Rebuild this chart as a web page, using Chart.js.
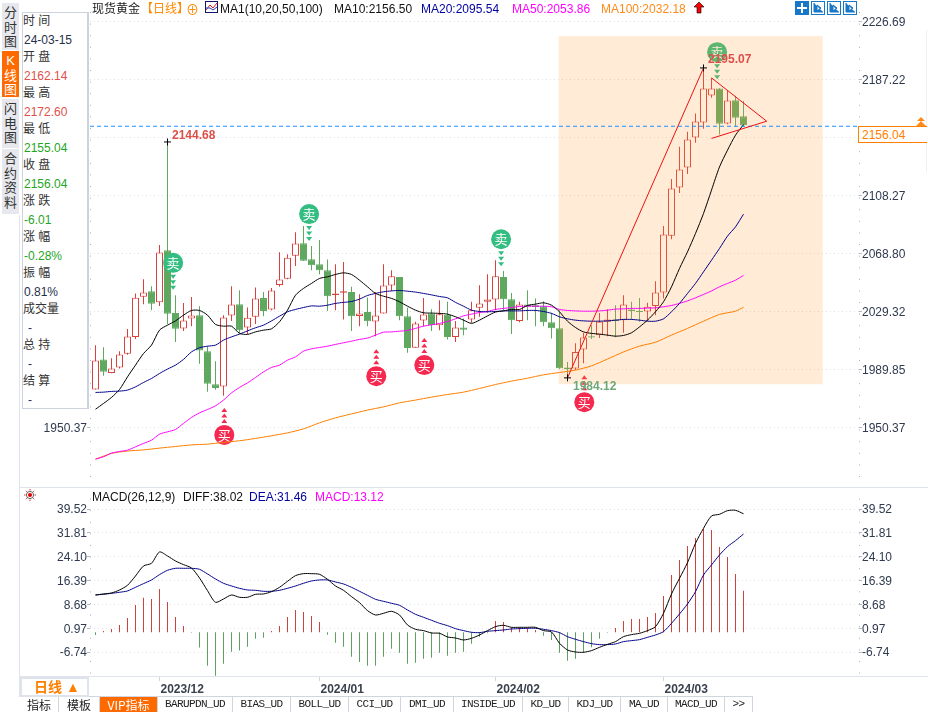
<!DOCTYPE html>
<html>
<head>
<meta charset="utf-8">
<script src="https://cdn.jsdelivr.net/npm/chart.js@4/dist/chart.umd.min.js"></script>
<style>
    html, body { margin: 0; padding: 0; background: #fff; }
    body { width: 928px; height: 712px; overflow: hidden; position: relative; font: 12px "Liberation Sans", "Noto Sans CJK SC", sans-serif; color: #26304a; }
    canvas { position: absolute; left: 0; }
    .txt { position: absolute; white-space: nowrap; line-height: 14px; }
    .line { position: absolute; background: #dfe4ec; }
    .side { position: absolute; left: 2px; width: 17px; background: #e6e8ed; text-align: center; font-size: 13px; line-height: 14.5px; color: #333; box-sizing: border-box; padding-top: 3px; }
    .tab { position: absolute; top: 697px; height: 15px; line-height: 15px; text-align: center; border-right: 1px solid #cfd6e0; box-sizing: border-box; color: #222; font: 11px/15px "Liberation Mono", "Noto Sans CJK SC", monospace; letter-spacing: -0.6px; }
    .tool { position: absolute; top: 1px; width: 14px; height: 14px; box-sizing: border-box; border: 1px solid #1777c8; }
</style>
</head>
<body>
<canvas id="priceChart" width="928" height="487" style="top:0"></canvas>
<canvas id="macdChart" width="928" height="213" style="top:487px"></canvas>
<div id="chrome"></div>
<script>
let candleOpen = [
    1976.2,1996.7,1987.5,1991.2,2000.5,2012.0,2039.3,2043.1,2035.5,2071.0,
    2028.2,2017.8,2024.6,2026.8,2002.3,1979.8,1978.3,2026.6,2034.3,2018.4,
    2025.7,2038.4,2030.7,2047.4,2051.5,2067.2,2075.8,2064.9,2061.5,2057.4,
    2040.6,2042.0,2042.5,2026.3,2028.9,2022.5,2028.0,2047.0,2052.7,2026.1,
    2004.6,2023.2,2028.0,2020.0,2027.0,2012.0,2018.4,2023.9,2031.8,2035.9,
    2037.5,2052.7,2037.7,2022.9,2034.1,2033.6,2032.9,2022.0,2017.9,1991.2,
    1990.5,2003.5,2012.5,2013.2,2022.3,2023.9,2023.4,2030.7,2029.7,2029.3,
    2033.1,2042.3,2080.8,2113.7,2127.3,2147.8,2158.0,2176.3,2181.1,2157.3,
    2173.1,2162.14
];
let candleHigh = [
    2006.4,2005.0,1997.5,2002.3,2017.3,2041.6,2051.3,2046.5,2074.5,2144.68,
    2040.4,2035.0,2039.1,2032.9,2005.7,1995.5,2026.8,2046.5,2043.8,2032.0,
    2045.7,2042.5,2045.2,2069.7,2068.3,2083.3,2087.4,2073.8,2077.9,2064.7,
    2061.5,2062.9,2046.1,2041.1,2038.9,2042.5,2061.5,2057.4,2052.7,2031.8,
    2022.3,2038.4,2030.9,2037.0,2035.9,2022.9,2024.6,2035.9,2047.2,2054.7,
    2064.2,2056.8,2041.8,2035.9,2043.8,2038.2,2036.3,2028.4,2030.2,1995.0,
    2007.7,2014.6,2020.0,2028.2,2030.9,2033.6,2040.4,2035.9,2038.4,2035.2,
    2049.9,2087.4,2119.4,2141.4,2151.6,2164.1,2195.07,2188.3,2181.3,2179.3,
    2176.1,2172.6
];
let candleLow = [
    1976.2,1985.5,1987.3,1990.5,1999.8,2010.5,2034.3,2030.2,2033.1,2020.7,
    2008.6,2016.1,2019.3,1993.7,1974.6,1976.0,1971.9,2022.9,2014.6,2013.9,
    2020.7,2026.1,2030.2,2046.1,2051.3,2060.2,2063.6,2057.4,2054.7,2029.7,
    2030.2,2023.9,2016.1,2019.3,2019.3,2012.5,2028.0,2043.3,2023.4,2001.2,
    2004.6,2019.3,2016.1,2016.6,2010.3,2008.6,2013.2,2021.6,2025.7,2028.4,
    2030.2,2030.2,2013.9,2022.0,2023.4,2019.3,2019.3,2010.9,1990.1,1984.12,
    1989.4,1994.1,2010.5,2011.2,2012.5,2011.8,2014.8,2023.9,2022.3,2022.9,
    2026.8,2038.2,2078.5,2110.0,2122.8,2144.1,2153.6,2174.7,2149.8,2156.8,
    2155.0,2155.04
];
let candleClose = [
    1996.0,1988.2,1990.5,2000.1,2012.3,2038.6,2042.3,2034.5,2069.5,2027.7,
    2017.5,2023.2,2026.6,2002.8,1980.1,1977.3,2025.2,2034.1,2016.6,2025.0,
    2038.2,2029.7,2043.6,2051.1,2065.8,2075.6,2063.8,2060.8,2057.4,2039.7,
    2041.6,2043.1,2026.1,2028.0,2022.7,2026.6,2047.0,2053.2,2026.1,2004.4,
    2021.2,2027.3,2020.0,2027.5,2012.0,2018.4,2016.8,2030.2,2034.8,2037.5,
    2053.2,2037.7,2023.4,2034.1,2032.5,2032.3,2022.0,2017.9,1990.7,1989.9,
    2001.8,2011.6,2011.6,2022.3,2023.9,2022.9,2034.1,2029.7,2028.9,2032.5,
    2042.3,2081.7,2113.0,2126.0,2146.4,2158.6,2181.1,2181.1,2157.0,2172.9,
    2161.1,2156.04
];
let ma10 = [
    1962.8,1966.7,1970.8,1976.2,1984.8,1992.8,2000.7,2006.4,2016.6,2020.0,
    2022.9,2026.8,2030.0,2030.0,2026.8,2020.5,2019.3,2019.3,2014.4,2013.7,
    2015.4,2016.6,2017.5,2022.3,2030.2,2040.4,2045.0,2048.4,2051.8,2052.9,
    2054.5,2055.6,2054.5,2050.6,2046.1,2041.6,2039.7,2038.2,2035.9,2032.9,
    2030.2,2028.4,2028.2,2028.0,2027.5,2025.7,2023.4,2021.2,2023.4,2026.3,
    2028.9,2029.7,2030.7,2030.7,2033.4,2034.3,2035.2,2033.6,2029.1,2022.7,
    2018.4,2015.4,2014.4,2013.9,2013.2,2012.5,2013.0,2014.8,2018.8,2023.4,
    2029.1,2035.9,2046.1,2058.6,2069.9,2082.4,2096.0,2111.9,2127.7,2139.1,
    2149.3,2156.5
];
let ma20 = [
    1974.2,1974.4,1974.9,1975.1,1975.8,1978.0,1981.0,1983.7,1987.1,1990.1,
    1992.8,1996.7,2001.8,2004.6,2005.7,2006.4,2009.8,2012.0,2013.9,2016.1,
    2018.2,2020.0,2022.9,2026.1,2029.1,2030.7,2032.0,2033.1,2032.9,2033.6,
    2034.8,2035.5,2036.1,2037.7,2040.2,2041.6,2042.7,2043.3,2043.6,2043.1,
    2042.5,2041.6,2040.6,2039.5,2038.6,2035.5,2032.9,2030.2,2029.3,2029.1,
    2029.3,2029.7,2029.7,2029.7,2030.0,2030.0,2029.3,2028.0,2025.7,2024.3,
    2023.4,2022.9,2022.7,2022.7,2022.9,2023.4,2023.9,2023.9,2023.4,2022.7,
    2022.7,2024.3,2029.1,2034.8,2041.6,2048.4,2056.3,2064.2,2072.2,2080.6,
    2086.9,2095.54
];
let ma50 = [
    1928.8,1930.4,1932.9,1934.0,1934.9,1937.2,1939.5,1941.7,1945.8,1947.4,
    1949.0,1953.1,1957.2,1960.3,1962.6,1965.1,1969.0,1973.9,1977.6,1980.7,
    1984.4,1988.2,1991.2,1992.8,1996.2,1998.4,2002.3,2003.9,2004.8,2005.7,
    2006.9,2008.0,2009.1,2010.3,2011.2,2013.2,2015.2,2015.4,2015.9,2016.4,
    2017.8,2019.3,2020.2,2021.2,2022.5,2024.3,2026.3,2027.5,2028.6,2029.3,
    2030.7,2031.4,2032.0,2032.7,2032.9,2032.9,2032.9,2032.5,2030.7,2030.0,
    2029.7,2029.5,2029.5,2029.7,2030.2,2030.9,2031.1,2031.4,2031.4,2031.6,
    2031.8,2032.5,2033.4,2034.8,2036.5,2038.6,2040.9,2043.3,2046.1,2048.4,
    2050.6,2053.86
];
let ma100Index = [0,2,4,6,8,10,12,14,16,18,20,22,24,26,28,30,32,34,36,38,40,42,44,46,48,50,52,54,56,58,60,62,64,66,68,70,72,74,76,78,80,81];
let ma100 = [
    1928.8,1932.7,1934.3,1935.1,1936.3,1937.4,1938.5,1939.0,1940.2,1941.3,
    1942.9,1944.7,1946.7,1949.4,1953.5,1956.9,1959.6,1962.2,1964.4,1967.1,
    1969.0,1971.0,1972.8,1974.4,1976.9,1979.6,1981.9,1983.9,1986.2,1987.8,
    1989.4,1992.3,1996.9,2001.8,2005.7,2008.4,2013.2,2017.8,2022.7,2027.3,
    2029.5,2032.18
];
let macdDiff = [
    11.75,12.08,12.40,13.37,14.88,17.90,21.13,22.00,25.66,24.37,
    22.75,21.57,20.49,17.25,13.15,9.38,10.46,11.75,11.00,11.00,
    11.97,12.08,12.83,14.23,16.17,18.01,18.65,18.65,18.44,16.82,
    14.66,13.26,11.21,9.27,6.69,5.28,5.82,6.47,5.28,2.05,
    0.65,0.22,-0.54,-0.65,-1.83,-2.16,-2.80,-2.27,-1.19,0.22,
    1.51,1.94,1.29,1.29,1.29,1.29,0.22,-0.22,-3.88,-6.04,
    -6.69,-6.79,-6.25,-5.18,-4.21,-3.34,-1.73,-1.08,-0.65,0.22,
    1.51,5.82,12.08,17.14,22.21,28.47,33.32,37.31,37.85,39.03,
    39.14,38.02
];
let macdDea = [
    11.75,11.97,12.29,12.62,13.05,14.23,15.42,16.61,18.33,19.73,
    20.38,20.38,20.38,20.06,18.55,16.93,15.53,14.66,13.91,13.37,
    13.26,12.94,12.94,13.26,13.91,14.66,15.53,16.28,16.61,16.61,
    15.96,15.31,14.23,12.94,11.65,10.35,9.70,9.06,8.41,6.90,
    5.50,4.53,3.56,2.59,1.83,0.86,0.22,-0.32,-0.43,0,
    0.22,0.43,0.75,0.86,0.97,0.97,0.65,0.22,-0.43,-1.73,
    -2.59,-3.34,-3.99,-4.31,-4.31,-4.10,-3.34,-3.02,-2.70,-1.94,
    -1.19,-0.11,2.59,5.61,8.84,12.83,18.22,21.46,24.69,27.39,
    29.33,31.46
];
let macdHist = [
    -1.19,0.11,0.75,2.05,4.31,8.52,10.89,10.46,13.69,9.49,
    4.64,1.72,-0.43,-5.28,-11.11,-14.34,-10.46,-6.58,-6.25,-4.96,
    -2.37,-2.05,0.11,1.72,4.64,6.90,6.25,4.96,3.02,-1.08,
    -3.67,-4.96,-8.20,-9.92,-11.11,-11.11,-8.20,-5.61,-6.90,-10.46,
    -10.14,-8.84,-8.52,-6.90,-7.87,-6.90,-6.58,-3.99,-1.73,-0.65,
    3.34,3.02,1.19,1.19,0.97,0.43,-1.40,-2.80,-6.90,-9.49,
    -8.84,-6.90,-5.18,-2.37,-0.43,1.08,3.34,3.99,3.99,4.64,
    5.93,11.43,18.22,23.08,27.60,30.19,33.10,32.78,27.28,24.05,
    18.55,13.12
];
let priceTicks = [2226.69, 2187.22, 2147.75, 2108.27, 2068.80, 2029.32, 1989.85, 1950.37];
let priceLeftTicks = [1950.37];
let macdTicks = [39.52, 31.81, 24.10, 16.39, 8.68, 0.97, -6.74];
let monthIndex = [8, 28, 50, 71];
let monthLabels = ['2023/12', '2024/01', '2024/02', '2024/03'];
let hiddenTick = 2147.75;
// level of the dashed line as it sits on the picture
let lastLineLevel = 2155.37;

// trend lines and marks, index along the x axis and price
let riseLineX = [59, 76];
let riseLineY = [1984.12, 2195.07];
let wedgeX = [77, 83.9, 77];
let wedgeY = [2188.3, 2158.8, 2147.1];
let extremeX = [9, 76, 59];
let extremeY = [2144.68, 2195.07, 1984.12];
let sellX = [9.7, 26.7, 50.7, 77.7];
let sellY = [2062.4, 2095.6, 2078.5, 2205.8];
let buyX = [16.1, 35.1, 41.1, 61.1];
let buyY = [1945.3, 1985.3, 1992.8, 1967.6];
let boxX = [57.9, 90.9];
let boxY = [1979.8, 2216.7];

let xMin = -0.6875;
let xMax = 95.4375;
let priceMin = 1913.24;
let priceMax = 2233.14;
let red = '#d9423c';
let green = '#5fa85f';
let isUp = i => candleClose[i] >= candleOpen[i];

Chart.defaults.font.family = '"Liberation Sans", "Noto Sans CJK SC", sans-serif';
Chart.defaults.font.size = 12;
Chart.defaults.color = '#2f3a4f';

let toXY = (xs, ys) => xs.map((x, i) => ({ x: x, y: ys[i] }));
let seq = values => values.map((v, i) => ({ x: i, y: v }));

let lineSet = (label, data, color, order) => ({
    type: 'line', label: label, data: data, borderColor: color, borderWidth: 1,
    pointRadius: 0, tension: 0.25, order: order
});

// the labels must not push the plot area in
let noPadding = scale => {
    scale.paddingTop = 0;
    scale.paddingBottom = 0;
    scale.paddingLeft = 0;
    scale.paddingRight = 0;
};

let yAxis = (position, ticks, min, max, width) => ({
    type: 'linear', position: position, min: min, max: max,
    afterBuildTicks: scale => { scale.ticks = ticks.map(v => ({ value: v })); },
    afterFit: scale => { scale.width = width; noPadding(scale); },
    ticks: {
        autoSkip: false, padding: 0, labelOffset: 1, color: '#2f3a4f', font: { size: 12 },
        callback: v => v === hiddenTick ? '' : v.toFixed(2)
    },
    border: { display: false, dash: [1, 3] },
    grid: {
        drawOnChartArea: position === 'right', tickLength: 3, tickColor: '#b5bbc4', tickBorderDash: [],
        color: '#dfe2e6'
    }
});

let axisDots = {
    id: 'axisDots',
    beforeDatasetsDraw: chart => {
        let ctx = chart.ctx;
        let a = chart.chartArea;
        ctx.save();
        ctx.strokeStyle = '#a9b0ba';
        ctx.setLineDash([1, 10.6]);
        [a.left + 0.5, a.right + 0.5].forEach(x => {
            ctx.beginPath();
            ctx.moveTo(x, a.top);
            ctx.lineTo(x, a.bottom);
            ctx.stroke();
        });
        ctx.restore();
    }
};

let drawMarker = (ctx, x, y, text, color, dir) => {
    ctx.fillStyle = color;
    [14, 19.5, 25].forEach(d => {
        let ty = y + dir * d;
        ctx.beginPath();
        ctx.moveTo(x - 3, ty - dir * 2);
        ctx.lineTo(x + 3, ty - dir * 2);
        ctx.lineTo(x, ty + dir * 2);
        ctx.fill();
    });
    ctx.beginPath();
    ctx.arc(x, y, 10, 0, Math.PI * 2);
    ctx.fill();
    ctx.fillStyle = '#fff';
    ctx.font = '13px "Noto Sans CJK SC"';
    ctx.textAlign = 'center';
    ctx.textBaseline = 'middle';
    ctx.fillText(text, x, y);
};

// markers and the shaded box sit over the candles, lines stay on top
let candleLayer = {
    id: 'candleLayer',
    afterDatasetDraw: (chart, args) => {
        if (chart.data.datasets[args.index].label !== 'bodies') return;
        let ctx = chart.ctx;
        let xs = chart.scales.x;
        let ys = chart.scales.y;
        ctx.save();
        sellX.forEach((v, i) => drawMarker(ctx, xs.getPixelForValue(v), ys.getPixelForValue(sellY[i]), '卖', '#33bd80', 1));
        buyX.forEach((v, i) => drawMarker(ctx, xs.getPixelForValue(v), ys.getPixelForValue(buyY[i]), '买', '#f5294f', -1));
        ctx.fillStyle = 'rgba(255, 153, 51, 0.2)';
        let left = xs.getPixelForValue(boxX[0]);
        let top = ys.getPixelForValue(boxY[1]);
        ctx.fillRect(left, top, xs.getPixelForValue(boxX[1]) - left, ys.getPixelForValue(boxY[0]) - top);
        ctx.restore();
    }
};

let extremeLabels = {
    id: 'extremeLabels',
    afterDatasetsDraw: chart => {
        let ctx = chart.ctx;
        let xs = chart.scales.x;
        let ys = chart.scales.y;
        let colors = ['#df4f4a', '#df4f4a', '#6fa878'];
        let dx = [4.5, 4.5, 5.5];
        let dy = [-6, -8, 9];
        ctx.save();
        ctx.font = 'bold 12px "Liberation Sans"';
        ctx.textBaseline = 'middle';
        ctx.textAlign = 'left';
        extremeX.forEach((v, i) => {
            ctx.fillStyle = colors[i];
            ctx.fillText(extremeY[i].toFixed(2), xs.getPixelForValue(v) + dx[i], ys.getPixelForValue(extremeY[i]) + dy[i]);
        });
        ctx.restore();
    }
};

new Chart(document.getElementById('priceChart'), {
    type: 'bar',
    data: {
        datasets: [
            {
                label: 'wicks', data: candleOpen.map((v, i) => ({ x: i, y: [candleLow[i], candleHigh[i]] })),
                backgroundColor: candleOpen.map((v, i) => isUp(i) ? red : green),
                barThickness: 1, inflateAmount: 0, grouped: false, order: 9
            },
            {
                label: 'bodies', data: candleOpen.map((v, i) => ({ x: i, y: [v, candleClose[i]] })),
                backgroundColor: candleOpen.map((v, i) => isUp(i) ? '#fff' : green),
                borderColor: candleOpen.map((v, i) => isUp(i) ? red : green),
                borderWidth: 1, borderSkipped: false, barThickness: 7, inflateAmount: 0, grouped: false, order: 8
            },
            lineSet('MA100', toXY(ma100Index, ma100), '#ff7f00', 7),
            lineSet('MA50', seq(ma50), '#ff00ff', 6),
            lineSet('MA20', seq(ma20), '#00008b', 5),
            lineSet('MA10', seq(ma10), '#000', 4),
            {
                type: 'line', label: 'last', data: toXY([xMin, xMax], [lastLineLevel, lastLineLevel]),
                borderColor: '#1e90ff', borderWidth: 1, borderDash: [4, 3], pointRadius: 0, order: 3
            },
            {
                type: 'line', label: 'rise', data: toXY(riseLineX, riseLineY),
                borderColor: '#f01010', borderWidth: 1, pointRadius: 0, order: 2
            },
            {
                type: 'line', label: 'wedge', data: toXY(wedgeX, wedgeY),
                borderColor: '#f01010', borderWidth: 1, pointRadius: 0, order: 2
            },
            {
                type: 'scatter', label: 'extremes', data: toXY(extremeX, extremeY), showLine: false,
                pointStyle: 'cross', pointRadius: 3.5, pointBorderColor: '#000', pointBorderWidth: 1, order: 1
            }
        ]
    },
    options: {
        responsive: false,
        animation: false,
        layout: { padding: { top: 12, bottom: 4 } },
        plugins: { legend: { display: false }, tooltip: { enabled: false } },
        scales: {
            x: { type: 'linear', min: xMin, max: xMax, offset: false, display: false },
            y: yAxis('right', priceTicks, priceMin, priceMax, 69),
            yLeft: yAxis('left', priceLeftTicks, priceMin, priceMax, 90)
        }
    },
    plugins: [axisDots, candleLayer, extremeLabels]
});

new Chart(document.getElementById('macdChart'), {
    type: 'bar',
    data: {
        datasets: [
            {
                label: 'hist', data: seq(macdHist), base: -0.32,
                backgroundColor: macdHist.map(v => v > 0 ? '#c8443c' : '#5f9f5f'),
                barThickness: 1, inflateAmount: 0, grouped: false, order: 3
            },
            lineSet('DEA', seq(macdDea), '#00008b', 2),
            lineSet('DIFF', seq(macdDiff), '#000', 1)
        ]
    },
    options: {
        responsive: false,
        animation: false,
        layout: { padding: 0 },
        plugins: { legend: { display: false }, tooltip: { enabled: false } },
        scales: {
            x: {
                type: 'linear', min: xMin, max: xMax, offset: false,
                afterBuildTicks: scale => { scale.ticks = monthIndex.map(v => ({ value: v })); },
                afterFit: scale => { scale.height = 24; noPadding(scale); },
                ticks: {
                    autoSkip: false, maxRotation: 0, align: 'start', padding: 1, labelOffset: 1, color: '#3a4250',
                    font: { size: 12, weight: 'bold' },
                    callback: v => monthLabels[monthIndex.indexOf(v)]
                },
                border: { display: false },
                grid: { offset: false, drawOnChartArea: false, tickLength: 5, color: '#cfd6e0', tickColor: '#cfd6e0' }
            },
            y: yAxis('right', macdTicks, -14.46, 46.68, 69),
            yLeft: yAxis('left', macdTicks, -14.46, 46.68, 90)
        }
    },
    plugins: [axisDots]
});

// page chrome around the two charts
let chrome = document.getElementById('chrome');
let add = (cls, style, text) => {
    let el = document.createElement('div');
    el.className = cls;
    el.style.cssText = style;
    if (text) el.textContent = text;
    chrome.appendChild(el);
    return el;
};

add('line', 'left:19px;top:215px;width:1px;height:482px');
add('line', 'left:20px;top:487px;width:908px;height:1px');
add('line', 'left:20px;top:676px;width:908px;height:1px');
add('line', 'left:20px;top:696px;width:733px;height:1px;background:#cfd6e0');
add('line', 'left:926px;top:30px;width:1px;height:142px;background:#eef0f4');

[
    ['分时图', 3, 47, false], ['K线图', 51, 46, true], ['闪电图', 99, 49, false], ['合约资料', 149, 65, false]
].forEach(s => {
    let el = add('side', `top:${s[1]}px;height:${s[2]}px;` + (s[3] ? 'background:#ff6a00;color:#fff;' : ''));
    el.innerHTML = s[0].split('').join('<br>');
});

// quote panel
add('txt', 'left:22px;top:12px;width:67px;height:397px;background:#fff;border:1px solid #ccd3de;border-right-width:2px;box-sizing:border-box');
let quoteLabels = ['时 间', '开 盘', '最 高', '最 低', '收 盘', '涨 跌', '涨 幅', '振 幅', '成交量', '总 持', '结 算'];
let quoteValues = ['24-03-15', '2162.14', '2172.60', '2155.04', '2156.04', '-6.01', '-0.28%', '0.81%', '-', '-', '-'];
let quoteColors = ['#26304a', '#e0504a', '#e0504a', '#1fa51f', '#1fa51f', '#1fa51f', '#1fa51f', '#26304a', '#26304a', '#26304a', '#26304a'];
quoteLabels.forEach((label, i) => {
    add('txt', `left:23px;top:${14 + i * 36}px;color:#333`, label);
    add('txt', `left:${i > 7 ? 28 : 24}px;top:${33 + i * 36}px;color:${quoteColors[i]}`, quoteValues[i]);
});

// title row
add('txt', 'left:92px;top:2px;color:#222', '现货黄金');
add('txt', 'left:141px;top:2px;color:#ff8a00', '【日线】');
add('txt', 'left:186px;top:3px;color:#ff8a00;font-size:13px', '⊕');
add('txt', 'left:220px;top:2px;color:#111', 'MA1(10,20,50,100)');
add('txt', 'left:334px;top:2px;color:#111', 'MA10:2156.50');
add('txt', 'left:421px;top:2px;color:#0000a0', 'MA20:2095.54');
add('txt', 'left:512px;top:2px;color:#ff00ff', 'MA50:2053.86');
add('txt', 'left:601px;top:2px;color:#ff8a1a', 'MA100:2032.18');
add('txt', 'left:205px;top:1px').innerHTML = '<svg width="13" height="12"><rect x=".5" y=".5" width="12" height="11" fill="#fff" stroke="#15156b"/><path d="M1 9L5 4L8 7L12 2" fill="none" stroke="#d02020"/><path d="M1 7L5 7L8 9L12 6" fill="none" stroke="#2040c0"/></svg>';
add('txt', 'left:693px;top:2px').innerHTML = '<svg width="12" height="12"><path d="M6 0L11 5H8V11H4V5H1Z" fill="#f00" stroke="#000" stroke-width=".6"/></svg>';

[795, 811, 827, 843].forEach((x, i) => {
    let el = add('tool', `left:${x}px;` + (i === 0 ? 'background:#1777c8' : ''));
    el.innerHTML = i === 0
        ? '<svg width="12" height="12" style="display:block"><path d="M6 1V11M1 6H11" stroke="#fff" stroke-width="2"/></svg>'
        : '<svg width="12" height="12" style="display:block"><path d="M2 1V10H11M5 3L9 6L5 9Z" fill="#1777c8" stroke="#1777c8"/></svg>';
});

// macd title row
add('txt', 'left:24px;top:489px').innerHTML = '<svg width="12" height="12"><circle cx="6" cy="6" r="2" fill="#d00"/><circle cx="6" cy="6" r="3.6" fill="none" stroke="#222" stroke-width=".7"/><path d="M6 0V1.5M6 10.5V12M0 6H1.5M10.5 6H12M1.8 1.8L2.8 2.8M9.2 9.2L10.2 10.2M1.8 10.2L2.8 9.2M9.2 2.8L10.2 1.8" stroke="#e03030"/></svg>';
add('txt', 'left:92px;top:490px;color:#111', 'MACD(26,12,9)');
add('txt', 'left:183px;top:490px;color:#111', 'DIFF:38.02');
add('txt', 'left:249px;top:490px;color:#0000a0', 'DEA:31.46');
add('txt', 'left:315px;top:490px;color:#ff00ff', 'MACD:13.12');

// last price box
add('txt', 'left:858px;top:126px;width:69px;height:17px;background:#fff;border:1px solid #ff7f00;border-right:none;box-sizing:border-box;padding:1px 0 0 3px;color:#ff7f00', '2156.04');
add('txt', 'left:915px;top:116px').innerHTML = '<svg width="12" height="10"><path d="M6 0L10 4H2ZM6 4L11 9H1Z" fill="#ff8a1a"/></svg>';

// period box and tab strip
add('txt', 'left:20px;top:677px;width:69px;height:20px;border:2px solid #dfe4ec;box-sizing:border-box;color:#ff7f00;font-weight:bold;font-size:14px;line-height:16px;padding-left:12px', '日线 ▲');
[
    ['指标', 20, 39], ['模板', 59, 41], ['VIP指标', 100, 58], ['BARUPDN_UD', 158, 75], ['BIAS_UD', 233, 58], ['BOLL_UD', 291, 58],
    ['CCI_UD', 349, 52], ['DMI_UD', 401, 53], ['INSIDE_UD', 454, 69], ['KD_UD', 523, 46], ['KDJ_UD', 569, 52], ['MA_UD', 621, 47],
    ['MACD_UD', 668, 57], ['>>', 725, 28]
].forEach((t, i) => {
    let extra = i === 2 ? 'background:#ff6a00;color:#fff;' : '';
    if (i < 3) extra += 'font-family:\'Noto Sans CJK SC\';font-size:12px;letter-spacing:0;';
    add('tab', `left:${t[1]}px;width:${t[2]}px;${extra}`, t[0]);
});
</script>
</body>
</html>
